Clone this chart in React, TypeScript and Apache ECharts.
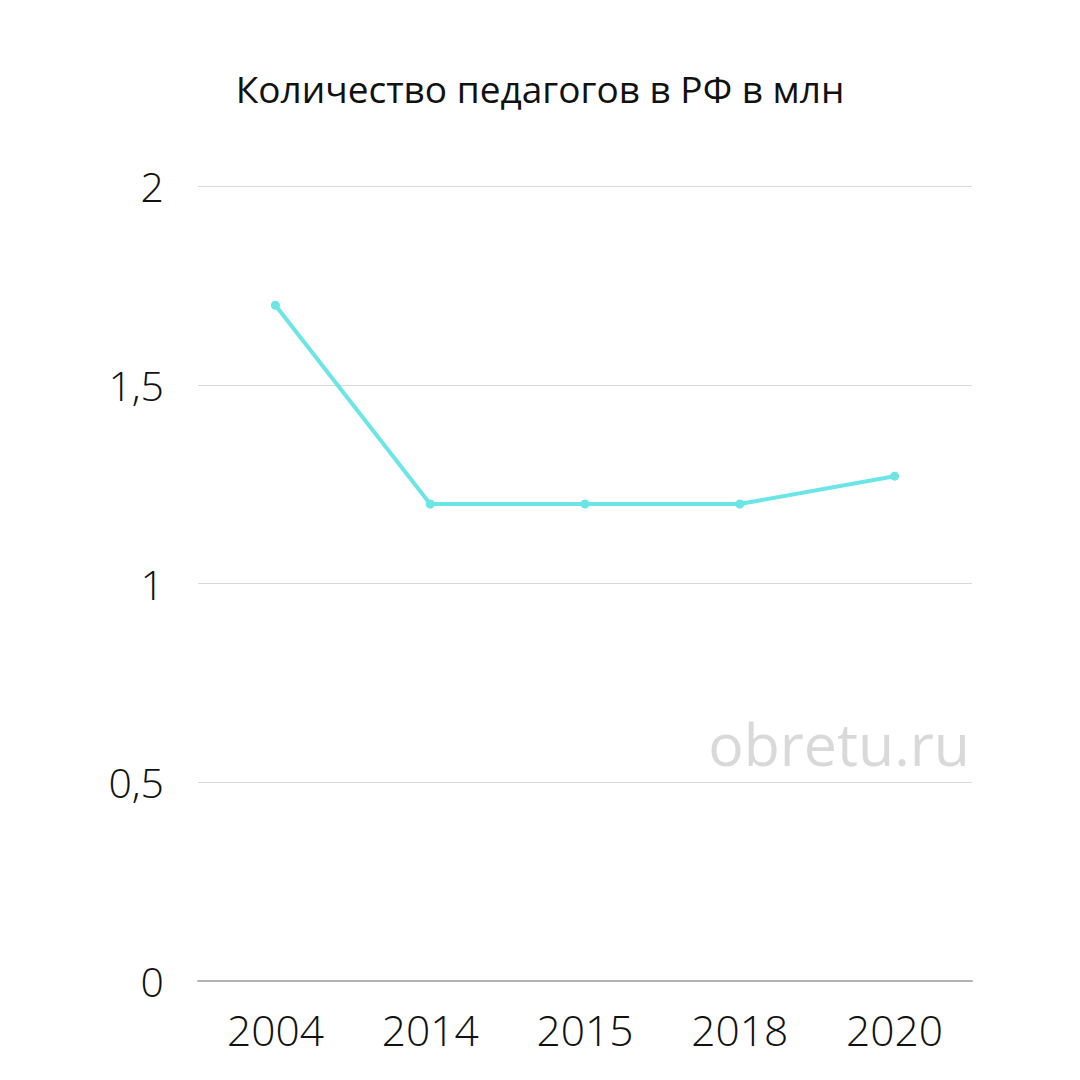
import React, { useEffect, useRef } from "react";
import * as echarts from "echarts";

const categories = ["2004", "2014", "2015", "2018", "2020"];
const values = [1.7, 1.2, 1.2, 1.2, 1.27];
const yTicks = [0, 0.5, 1, 1.5, 2];
const titleText = "Количество педагогов в РФ в млн";
const watermark = "obretu.ru";

export default function App() {
  const ref = useRef<HTMLDivElement>(null);
  useEffect(() => {
    const chart = echarts.init(ref.current!, null, { renderer: "svg" });
    chart.setOption({
      animation: false,
      backgroundColor: "#ffffff",
      title: {
        text: titleText,
        left: "center",
        top: 65,
        textStyle: { fontFamily: "Open Sans", fontSize: 37, fontWeight: 400, color: "#111111" },
      },
      grid: { left: 198, right: 108, top: 186, bottom: 99, containLabel: false },
      xAxis: {
        type: "category",
        data: categories,
        boundaryGap: true,
        axisLine: { show: true, lineStyle: { color: "#b3b3b3", width: 2 } },
        axisTick: { show: false },
        axisLabel: {
          fontFamily: "Open Sans",
          fontWeight: 300,
          fontSize: 42.5,
          color: "#111111",
          margin: 27,
        },
      },
      yAxis: {
        type: "value",
        min: 0,
        max: 2,
        interval: 0.5,
        axisLine: { show: false },
        axisTick: { show: false },
        splitLine: { lineStyle: { color: "#d9d9d9", width: 1 } },
        axisLabel: {
          fontFamily: "Open Sans",
          fontWeight: 300,
          fontSize: 41,
          color: "#111111",
          margin: 34,
          formatter: (v: number) => (yTicks.includes(v) ? String(v).replace(".", ",") : ""),
        },
      },
      graphic: [
        {
          type: "text",
          right: 110,
          top: 713,
          style: {
            text: watermark,
            fontFamily: "Open Sans",
            fontSize: 59,
            fill: "#d9d9d9",
          },
        },
      ],
      series: [
        {
          type: "line",
          data: values,
          color: "#6be5e6",
          lineStyle: { width: 4, color: "#6be5e6" },
          symbol: "circle",
          symbolSize: 9,
          itemStyle: { color: "#6be5e6" },
        },
      ],
    });
    return () => chart.dispose();
  }, []);
  return <div ref={ref} style={{ width: 1080, height: 1080, margin: -8 }} />;
}
